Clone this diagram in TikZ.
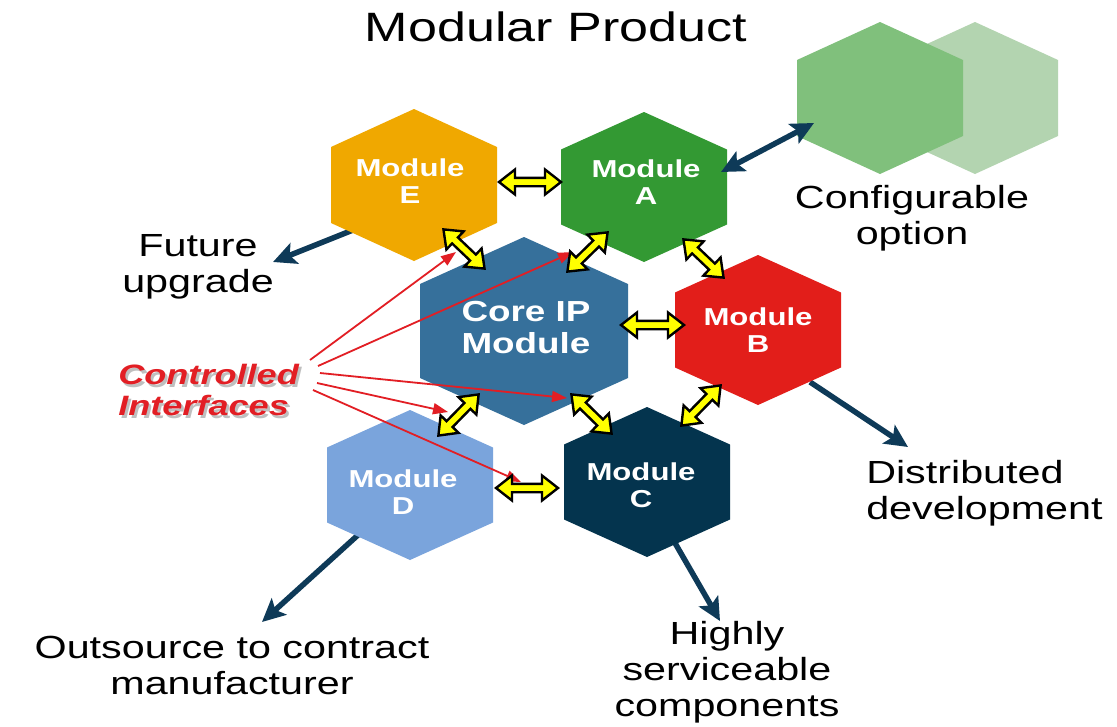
\documentclass[tikz,border=0pt]{standalone}
\usepackage{fontspec}
\setmainfont{Liberation Sans}
\usetikzlibrary{arrows.meta}

\definecolor{modE}{RGB}{240,168,0}
\definecolor{modA}{RGB}{51,153,51}
\definecolor{modCore}{RGB}{54,112,155}
\definecolor{modB}{RGB}{226,30,26}
\definecolor{modC}{RGB}{4,52,78}
\definecolor{modD}{RGB}{122,164,220}
\definecolor{optMid}{RGB}{128,192,124}
\definecolor{optLight}{RGB}{179,212,176}
\definecolor{navy}{RGB}{14,58,88}
\definecolor{ifYellow}{RGB}{255,255,0}
\definecolor{ifRed}{RGB}{226,30,36}

% pointy-top hexagon: centre x, centre y, half width, half height, colour
\newcommand\hexagon[5]{%
  \fill[#5] (#1,#2-#4) -- (#1+#3,#2-#4/2) -- (#1+#3,#2+#4/2) -- (#1,#2+#4)
    -- (#1-#3,#2+#4/2) -- (#1-#3,#2-#4/2) -- cycle;}

% fat yellow two-headed interface arrow between two named coordinates
\newcommand\ifarrow[2]{%
  \pgfmathanglebetweenpoints{\pgfpointanchor{#1}{center}}{\pgfpointanchor{#2}{center}}%
  \edef\ifang{\pgfmathresult}%
  \pgfpointdiff{\pgfpointanchor{#1}{center}}{\pgfpointanchor{#2}{center}}%
  \pgfgetlastxy{\ifdx}{\ifdy}%
  \pgfmathsetmacro\iflen{veclen(\ifdx,\ifdy)}%
  \begin{scope}[shift={(#1)}, rotate=\ifang, x=1pt, y=1pt]
    \draw[ifbody] (2,0) -- (18,12.5) -- (18,4.2) -- (\iflen-18,4.2) -- (\iflen-18,12.5)
      -- (\iflen-2,0) -- (\iflen-18,-12.5) -- (\iflen-18,-4.2) -- (18,-4.2) -- (18,-12.5) -- cycle;
  \end{scope}}

\tikzset{
  ifbody/.style={fill=ifYellow, draw=black, line width=2.4pt, line join=miter},
  navyarr/.style={draw=navy, line width=5.5pt, -{Stealth[length=23pt,width=22pt,inset=5pt]}},
  navydbl/.style={draw=navy, line width=5.5pt, {Stealth[length=23pt,width=22pt,inset=5pt]}-{Stealth[length=23pt,width=22pt,inset=5pt]}},
  redarr/.style={draw=ifRed, line width=1.8pt, -{Triangle[length=15pt,width=11pt]}},
  lbl/.style={font=\fontsize{32}{36}\selectfont, align=center, inner sep=0pt, xscale=1.29},
  ttl/.style={font=\fontsize{41}{48}\selectfont, inner sep=0pt, xscale=1.27},
  modtxt/.style={font=\bfseries\fontsize{24.5}{27}\selectfont, text=white, align=center, inner sep=0pt, xscale=1.27},
  coretxt/.style={font=\bfseries\fontsize{29}{32}\selectfont, text=white, align=center, inner sep=0pt, xscale=1.27},
  citxt/.style={font=\bfseries\itshape\fontsize{28}{31}\selectfont, align=left, inner sep=0pt, xscale=1.29, anchor=west},
}

\begin{document}
\begin{tikzpicture}[x=1pt, y=-1pt]
\fill[white] (0,0) rectangle (1117,726);
\useasboundingbox (0,0) rectangle (1117,726);

% end points of the outward arrows
\coordinate (futS) at (353,230);  \coordinate (futT) at (273,262);
\coordinate (outS) at (358,535);  \coordinate (outT) at (262,622);
\coordinate (disS) at (810,382);  \coordinate (disT) at (908,447);
\coordinate (higS) at (675,543);  \coordinate (higT) at (720,621);
\coordinate (cfgA) at (721,172);  \coordinate (cfgT) at (814,123);

\draw[navyarr] (futS) -- (futT);
\draw[navyarr] (outS) -- (outT);
\draw[navyarr] (disS) -- (disT);
\draw[navyarr] (higS) -- (higT);

% hexagons
\hexagon{975}{98}{83}{76}{optLight}
\hexagon{880}{98}{83}{76}{optMid}
\hexagon{414}{185}{83}{76}{modE}
\hexagon{644}{187}{83}{75}{modA}
\hexagon{524}{331}{104}{94}{modCore}
\hexagon{758}{330}{83}{75}{modB}
\hexagon{647}{482}{83}{75}{modC}
\hexagon{410}{485}{83}{75}{modD}

\draw[navydbl] (cfgA) -- (cfgT);

% module names
\node[modtxt] (mE) at (410,181) {Module\\E};
\node[modtxt] (mA) at (646,182) {Module\\A};
\node[coretxt] (mCore) at (526,328) {Core IP\\Module};
\node[modtxt] (mB) at (758,330) {Module\\B};
\node[modtxt] (mC) at (641,485) {Module\\C};
\node[modtxt] (mD) at (403,492) {Module\\D};

% controlled interfaces callout
\node[citxt, text=black!25] (ciShadow) at (120.5,392.5) {Controlled\\Interfaces};
\node[citxt, text=ifRed] (ci) at (118,390) {Controlled\\Interfaces};

\coordinate (r1S) at (310,360); \coordinate (r1T) at (456,252);
\coordinate (r2S) at (318,366); \coordinate (r2T) at (573,252);
\coordinate (r3S) at (320,373); \coordinate (r3T) at (567,398);
\coordinate (r4S) at (317,383); \coordinate (r4T) at (448,412);
\coordinate (r5S) at (313,390); \coordinate (r5T) at (521,482);
\draw[redarr] (r1S) -- (r1T);
\draw[redarr] (r2S) -- (r2T);
\draw[redarr] (r3S) -- (r3T);
\draw[redarr] (r4S) -- (r4T);
\draw[redarr] (r5S) -- (r5T);

% interfaces between modules
\coordinate (eaL) at (497,182); \coordinate (eaR) at (563,182);
\coordinate (ecU) at (442,228); \coordinate (ecD) at (486,270);
\coordinate (acU) at (609,231); \coordinate (acD) at (566,273);
\coordinate (abU) at (682,238); \coordinate (abD) at (725,279);
\coordinate (cbL) at (619,325); \coordinate (cbR) at (686,325);
\coordinate (ccU) at (570,393); \coordinate (ccD) at (613,435);
\coordinate (bcU) at (722,384); \coordinate (bcD) at (680,427);
\coordinate (cdU) at (480,393); \coordinate (cdD) at (437,437);
\coordinate (dcL) at (494,488); \coordinate (dcR) at (560,488);
\ifarrow{eaL}{eaR}
\ifarrow{ecU}{ecD}
\ifarrow{acU}{acD}
\ifarrow{abU}{abD}
\ifarrow{cbL}{cbR}
\ifarrow{ccU}{ccD}
\ifarrow{bcU}{bcD}
\ifarrow{cdU}{cdD}
\ifarrow{dcL}{dcR}

% labels
\node[ttl] (title) at (556,27) {Modular Product};
\node[lbl] (lFut) at (198,267) {Future\\upgrade};
\node[lbl] (lCfg) at (912,218) {Configurable\\option};
\node[lbl, anchor=west, align=left] (lDis) at (866,493) {Distributed\\development};
\node[lbl] (lHig) at (727,672) {Highly\\serviceable\\components};
\node[lbl] (lOut) at (232,665) {Outsource to contract\\manufacturer};
\end{tikzpicture}
\end{document}
